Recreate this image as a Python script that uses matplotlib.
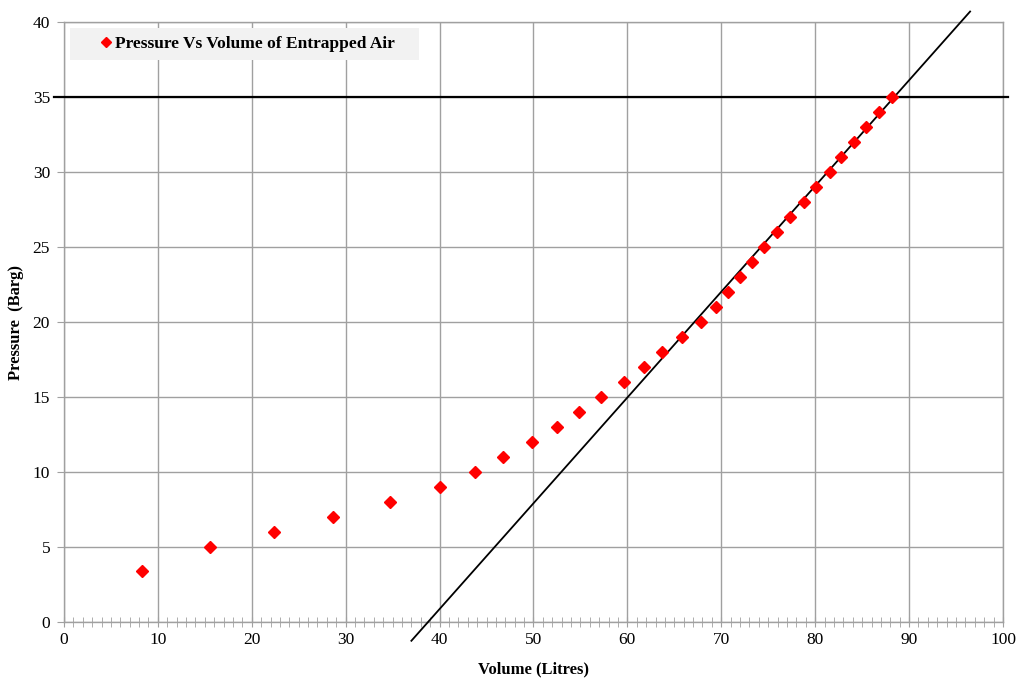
import numpy as np
import matplotlib.pyplot as plt
from matplotlib.patches import Rectangle
from matplotlib.ticker import MultipleLocator

# Pressure vs volume readings
volume = [8.3, 15.6, 22.4, 28.6, 34.7, 40.1, 43.8, 46.8, 49.8, 52.5,
          54.8, 57.2, 59.6, 61.8, 63.7, 65.8, 67.8, 69.4, 70.7, 72.0,
          73.3, 74.6, 75.9, 77.3, 78.8, 80.1, 81.6, 82.7, 84.1, 85.4,
          86.8, 88.2]
pressure = [3.4, 5, 6, 7, 8, 9, 10, 11, 12, 13,
            14, 15, 16, 17, 18, 19, 20, 21, 22, 23,
            24, 25, 26, 27, 28, 29, 30, 31, 32, 33,
            34, 35]

# trend line end points and 35 barg limit line
trend_x = [37.0, 96.5]
trend_y = [-1.25, 40.7]
limit_x = [-1.1, 100.5]
limit_y = [35, 35]

plt.rcParams['font.family'] = ['Liberation Serif', 'DejaVu Serif']

fig = plt.figure(figsize=(10.2, 6.84), dpi=100)
ax = fig.add_axes([0.0627, 0.0906, 0.9206, 0.8772])

grid_col = '#a0a0a0'
ax.plot(volume, pressure, linestyle='none', marker='D', markersize=6,
        color='#ff0000', label='Pressure Vs Volume of Entrapped Air', zorder=4)
ax.plot(trend_x, trend_y, color='black', lw=1.3, clip_on=False, zorder=3)
ax.plot(limit_x, limit_y, color='black', lw=1.6, clip_on=False, zorder=3)

ax.set_xlim(0, 100)
ax.set_ylim(0, 40)
ax.xaxis.set_major_locator(MultipleLocator(10))
ax.xaxis.set_minor_locator(MultipleLocator(1))
ax.yaxis.set_major_locator(MultipleLocator(5))
ax.grid(True, which='major', color=grid_col, lw=1)
ax.set_axisbelow(True)

for s in ax.spines.values():
    s.set_color(grid_col)
    s.set_linewidth(1)

ax.tick_params(axis='x', which='both', direction='inout', length=7,
               color=grid_col, labelsize=12.5, pad=4)
ax.tick_params(axis='y', which='major', direction='out', length=5,
               color=grid_col, labelsize=12.5, pad=5)

ax.set_xlabel('Volume (Litres)', fontsize=12, fontweight='bold', labelpad=9)
ax.set_ylabel('Pressure  (Barg)', fontsize=12, fontweight='bold', labelpad=6)

# legend background box
ax.add_patch(Rectangle((0.0064, 0.937), 0.372, 0.053, transform=ax.transAxes,
                       facecolor='#f2f2f2', edgecolor='none', zorder=5))
leg = ax.legend(loc='center left', bbox_to_anchor=(0.0373, 0.9635), frameon=False,
                handletextpad=0.1, handlelength=0.8, borderpad=0,
                borderaxespad=0, prop={'weight': 'bold', 'size': 12.5},
                markerscale=0.8)
leg.set_zorder(6)

fig.savefig('out.png', dpi=100)
